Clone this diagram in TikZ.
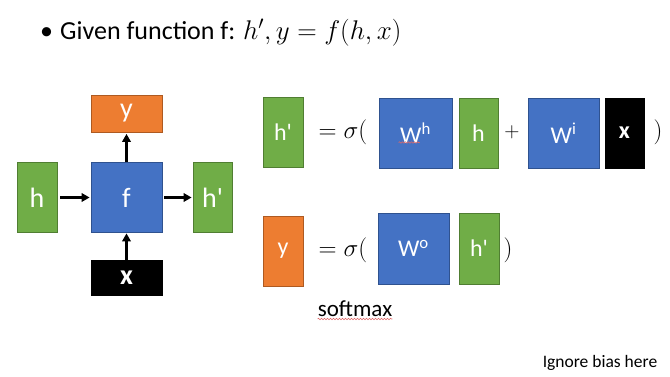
\RequirePackage{fix-cm}
\documentclass[tikz,border=0pt]{standalone}
\usepackage{fontspec}
\setmainfont{Carlito}
\usetikzlibrary{arrows.meta,decorations.pathmorphing,calc}
\definecolor{gfill}{HTML}{70AD47}
\definecolor{gline}{HTML}{507E32}
\definecolor{bfill}{HTML}{4472C4}
\definecolor{bline}{HTML}{2F528F}
\definecolor{ofill}{HTML}{ED7D31}
\definecolor{oline}{HTML}{AE5A21}
\definecolor{squigred}{HTML}{E06666}
\tikzset{
  box/.style={rectangle, inner sep=0pt, text=white, line width=0.8pt},
  gbox/.style={box, fill=gfill, draw=gline},
  bbox/.style={box, fill=bfill, draw=bline},
  obox/.style={box, fill=ofill, draw=oline},
  kbox/.style={box, fill=black, draw=black},
  bigl/.style={font=\fontsize{28}{32}\selectfont},
  smalll/.style={font=\fontsize{24}{28}\selectfont},
  eqtext/.style={inner sep=0pt, font=\fontsize{25}{28}\selectfont},
  arr/.style={line width=2.6pt, -{Triangle[length=8pt,width=8.5pt]}},
  squig/.style={draw=squigred, line width=0.6pt, decorate,
    decoration={snake, amplitude=0.7pt, segment length=3pt}},
}
\begin{document}
\begin{tikzpicture}[x=1pt,y=-1pt]
\useasboundingbox[fill=white] (0,0) rectangle (670,377);
% title
\node[inner sep=0pt, anchor=base, font=\fontsize{26}{30}\selectfont] (bul) at (46.5,39.5) {\textbullet};
\node[inner sep=0pt, anchor=base west, font=\fontsize{26}{30}\selectfont] (title) at (60,39.5) {Given function f: {\fontsize{27}{30}\selectfont$h',y=f(h,x)$}};
% left diagram
\node[gbox, bigl, minimum width=40, minimum height=70] (hL) at (37,197.5) {h};
\node[bbox, bigl, minimum width=71, minimum height=70] (f) at (126.5,197.5) {f};
\node[gbox, bigl, minimum width=39, minimum height=70] (hpL) at (212.5,197.5) {h\textquotesingle};
\node[obox, bigl, minimum width=71, minimum height=37] (yL) at (126.5,113.5) {y};
\node[kbox, bigl, minimum width=71, minimum height=35, font=\fontsize{28}{32}\selectfont\bfseries] (xL) at (126.5,277.5) {x};
\draw[arr, shorten <=3pt, shorten >=1pt] (hL) -- (f);
\draw[arr, shorten <=2pt, shorten >=1pt] (f) -- (hpL);
\draw[arr, shorten >=1.5pt] (f) -- (yL);
\draw[arr, shorten >=0.5pt] (xL) -- (f);
% equation 1
\node[gbox, smalll, minimum width=40, minimum height=70] (hp1) at (283,132) {h\textquotesingle};
\node[eqtext] (eq1) at (343,132) {$=\sigma($};
\node[bbox, smalll, minimum width=73, minimum height=70] (Wh) at (415.5,133) {W\textsuperscript{h}};
\node[gbox, smalll, minimum width=39, minimum height=70] (h1) at (478.5,133) {h};
\node[eqtext, font=\fontsize{21}{24}\selectfont] (plus) at (512,132) {$+$};
\node[bbox, smalll, minimum width=71, minimum height=70] (Wi) at (563.5,133) {W\textsuperscript{i}};
\node[kbox, smalll, minimum width=39, minimum height=70, font=\fontsize{24}{28}\selectfont\bfseries] (x1) at (624.5,133) {x};
\node[eqtext] (cp1) at (658,132) {$)$};
\draw[squig] ($(Wh.center)+(-17,9.5)$) -- ($(Wh.center)+(4,9.5)$);
% equation 2
\node[obox, smalll, minimum width=40, minimum height=70] (y2) at (283,251) {y};
\node[eqtext] (eq2) at (343,250) {$=\sigma($};
\node[bbox, smalll, minimum width=71, minimum height=71] (Wo) at (413.5,248.5) {W\textsuperscript{o}};
\node[gbox, smalll, minimum width=40, minimum height=71] (hp2) at (479,248.5) {h\textquotesingle};
\node[eqtext] (cp2) at (508,250) {$)$};
% notes
\node[inner sep=0pt, anchor=base, font=\fontsize{23}{26}\selectfont] (soft) at (355,316) {softmax};
\draw[squig] ($(soft.base west)+(0,3)$) -- ($(soft.base east)+(0,3)$);
\node[inner sep=0pt, font=\fontsize{17.5}{20}\selectfont] (note) at (600,363) {Ignore bias here};
\end{tikzpicture}
\end{document}
